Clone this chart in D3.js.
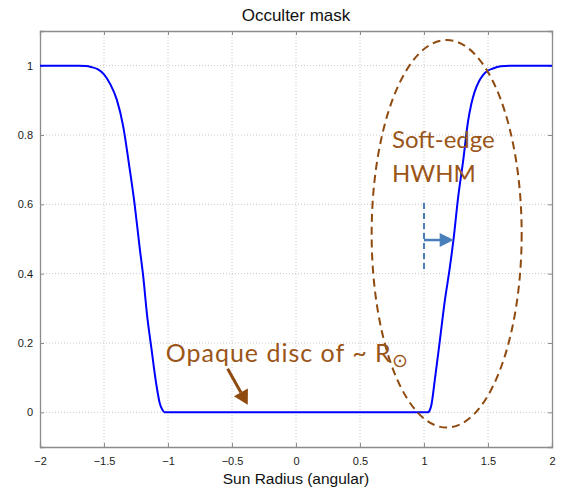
<!DOCTYPE html>
<html>
<head>
<meta charset="utf-8">
<script src="https://cdn.jsdelivr.net/npm/d3@7"></script>
<style>
  body { margin: 0; background: #fff; }
  svg { display: block; }
</style>
</head>
<body>
<svg id="chart"></svg>
<script>
// mask profile
const curveX = [-2, -1.8, -1.7, -1.64, -1.6, -1.55, -1.5, -1.45, -1.4, -1.35, -1.3, -1.26, -1.221, -1.195, -1.164, -1.13, -1.091, -1.065, -1.045, -1.026,
                -0.5, 0, 0.5,
                1.031, 1.045, 1.058, 1.083, 1.123, 1.162, 1.201, 1.232, 1.266, 1.305, 1.344, 1.37, 1.396, 1.43, 1.461, 1.5, 1.539, 1.6, 1.67, 2];
const curveY = [1, 1, 1, 0.999, 0.996, 0.99, 0.975, 0.946, 0.902, 0.825, 0.704, 0.598, 0.474, 0.397, 0.282, 0.186, 0.080, 0.027, 0.008, 0,
                0, 0, 0,
                0, 0.006, 0.022, 0.089, 0.205, 0.32, 0.416, 0.503, 0.618, 0.723, 0.839, 0.89, 0.925, 0.955, 0.973, 0.986, 0.992, 0.998, 1, 1];
const xTicks = [-2, -1.5, -1, -0.5, 0, 0.5, 1, 1.5, 2];
const yTicks = [0, 0.2, 0.4, 0.6, 0.8, 1];
const titleText = 'Occulter mask';
const xLabelText = 'Sun Radius (angular)';

const width = 563, height = 489;
const margin = {top: 31, right: 11, bottom: 42, left: 40};
const w = width - margin.left - margin.right;
const h = height - margin.top - margin.bottom;

const svg = d3.select('#chart').attr('width', width).attr('height', height);
const chart = svg.append('g').attr('transform', `translate(${margin.left},${margin.top})`);

const xScale = d3.scaleLinear().domain([-2, 2]).range([0, w]);
const yScale = d3.scaleLinear().domain([-0.1, 1.1]).range([h, 0]);

// dotted grid
chart.append('g').selectAll('line').data(xTicks.slice(1, -1)).enter().append('line')
    .attr('x1', d => xScale(d)).attr('x2', d => xScale(d))
    .attr('y1', 0).attr('y2', h)
    .attr('stroke', '#c8c8c8').attr('stroke-width', 1).attr('stroke-dasharray', '1,2');
chart.append('g').selectAll('line').data(yTicks).enter().append('line')
    .attr('x1', 0).attr('x2', w)
    .attr('y1', d => yScale(d)).attr('y2', d => yScale(d))
    .attr('stroke', '#c8c8c8').attr('stroke-width', 1).attr('stroke-dasharray', '1,2');

// axes
const xAxis = d3.axisBottom(xScale).tickValues(xTicks).tickSize(-4).tickPadding(10).tickFormat(d3.format('~g'));
const yAxis = d3.axisLeft(yScale).tickValues(yTicks).tickSize(-4).tickPadding(7).tickFormat(d3.format('~g'));
chart.append('g').attr('transform', `translate(0,${h})`).call(xAxis);
chart.append('g').call(yAxis);
chart.append('g')
    .call(d3.axisTop(xScale).tickValues(xTicks).tickSize(-4).tickFormat(''));
chart.append('g').attr('transform', `translate(${w},0)`)
    .call(d3.axisRight(yScale).tickValues(yTicks).tickSize(-4).tickFormat(''));
chart.selectAll('.domain').attr('stroke', '#8c8c8c').attr('stroke-width', 1.3);
chart.selectAll('.tick line').attr('stroke', '#8c8c8c');
chart.selectAll('.tick text')
    .style('font-family', 'Liberation Sans, Arial, sans-serif')
    .style('font-size', '11px').attr('fill', '#1a1a1a');

// curve
const pts = curveX.map((x, i) => [x, curveY[i]]);
const line = d3.line().x(d => xScale(d[0])).y(d => yScale(d[1])).curve(d3.curveMonotoneX);
chart.append('path').datum(pts)
    .attr('d', line).attr('fill', 'none')
    .attr('stroke', '#0000ff').attr('stroke-width', 2);

// title / labels
svg.append('text').attr('x', margin.left + w / 2).attr('y', 21)
    .attr('text-anchor', 'middle')
    .style('font-family', 'Liberation Sans, Arial, sans-serif').style('font-size', '17px')
    .attr('fill', '#111').text(titleText);
svg.append('text').attr('x', margin.left + w / 2).attr('y', 484)
    .attr('text-anchor', 'middle')
    .style('font-family', 'Liberation Sans, Arial, sans-serif').style('font-size', '15.5px')
    .attr('fill', '#111').text(xLabelText);

// annotations
const brown = '#8f4a10';
const textBrown = '#9a5518';
const blue = '#4a7ebb';

chart.append('ellipse')
    .attr('cx', xScale(1.177)).attr('cy', yScale(0.515))
    .attr('rx', xScale(0.586) - xScale(0)).attr('ry', yScale(0) - yScale(0.559))
    .attr('fill', 'none').attr('stroke', brown).attr('stroke-width', 2)
    .attr('stroke-dasharray', '8,5');

const annFont = 'Lato, Open Sans, sans-serif';
chart.append('text').attr('x', xScale(0.75)).attr('y', yScale(0.762))
    .style('font-family', annFont).style('font-size', '24px').attr('fill', textBrown).text('Soft-edge');
chart.append('text').attr('x', xScale(0.75)).attr('y', yScale(0.664))
    .style('font-family', annFont).style('font-size', '24px').attr('fill', textBrown).text('HWHM');
const opq = chart.append('text').attr('x', xScale(-1.018)).attr('y', yScale(0.146))
    .style('font-family', annFont).style('font-size', '25px').style('letter-spacing', '1px')
    .attr('fill', textBrown);
opq.append('tspan').text('Opaque disc of ~ R');
opq.append('tspan').attr('dy', 5).style('font-size', '19px').style('letter-spacing', '0px').text('\u2299');

// brown arrow
const bx0 = xScale(-0.534), by0 = yScale(0.126), bx1 = xScale(-0.377), by1 = yScale(0.022);
const ang = Math.atan2(by1 - by0, bx1 - bx0);
const hl = 14, hw = 8;
const baseX = bx1 - hl * Math.cos(ang), baseY = by1 - hl * Math.sin(ang);
chart.append('line').attr('x1', bx0).attr('y1', by0).attr('x2', baseX).attr('y2', baseY)
    .attr('stroke', brown).attr('stroke-width', 3);
chart.append('path')
    .attr('d', `M${bx1},${by1} L${baseX + hw * Math.sin(ang)},${baseY - hw * Math.cos(ang)} L${baseX - hw * Math.sin(ang)},${baseY + hw * Math.cos(ang)} Z`)
    .attr('fill', brown);

// blue HWHM marker
chart.append('line')
    .attr('x1', xScale(1)).attr('x2', xScale(1))
    .attr('y1', yScale(0.604)).attr('y2', yScale(0.405))
    .attr('stroke', blue).attr('stroke-width', 2).attr('stroke-dasharray', '6,4');
const ay = yScale(0.497), ax0 = xScale(1), ax1 = xScale(1.232);
chart.append('line').attr('x1', ax0).attr('x2', ax1 - 12).attr('y1', ay).attr('y2', ay)
    .attr('stroke', blue).attr('stroke-width', 2.5);
chart.append('path')
    .attr('d', `M${ax1},${ay} L${ax1 - 14},${ay - 7} L${ax1 - 14},${ay + 7} Z`)
    .attr('fill', blue);
</script>
</body>
</html>
